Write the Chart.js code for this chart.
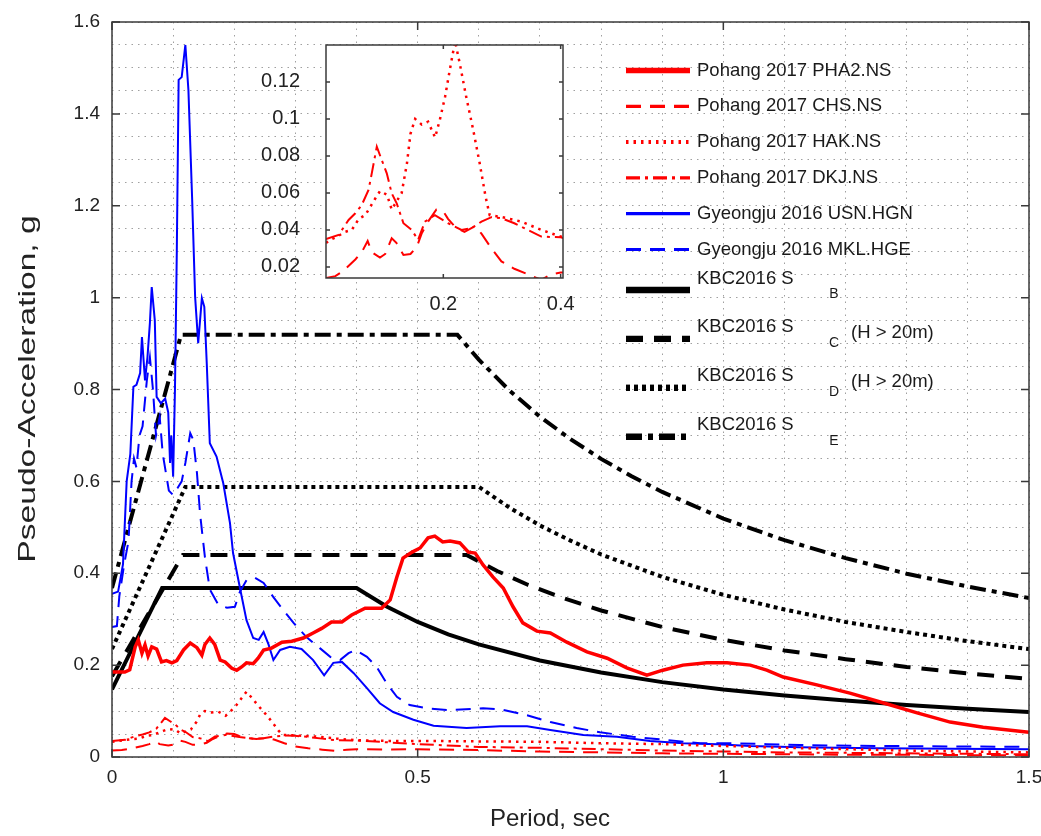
<!DOCTYPE html>
<html>
<head>
<meta charset="utf-8">
<script src="https://cdn.jsdelivr.net/npm/chart.js@4.4.1/dist/chart.umd.min.js"></script>
<style>
  html, body { margin: 0; padding: 0; background: #fff; }
  #wrap { position: relative; width: 1041px; height: 836px; }
  #main { position: absolute; left: 0; top: 0; }
  #inset { position: absolute; left: 250px; top: 35px; }
</style>
</head>
<body>
<div id="wrap">
  <canvas id="main" width="1041" height="836"></canvas>
  <canvas id="inset" width="330" height="300"></canvas>
</div>
<script>
// [period (sec), pseudo-acceleration (g)]
const pha2 = [[0,0.185],[0.021,0.185],[0.029,0.19],[0.038,0.24],[0.043,0.255],[0.049,0.226],[0.054,0.244],[0.059,0.22],[0.065,0.24],[0.073,0.235],
  [0.081,0.207],[0.089,0.21],[0.098,0.205],[0.106,0.21],[0.117,0.233],[0.128,0.248],[0.139,0.238],[0.147,0.222],[0.152,0.245],[0.160,0.259],
  [0.168,0.245],[0.177,0.211],[0.185,0.207],[0.196,0.193],[0.204,0.189],[0.212,0.196],[0.220,0.205],[0.231,0.203],[0.239,0.215],[0.248,0.233],
  [0.261,0.237],[0.278,0.25],[0.294,0.252],[0.313,0.259],[0.329,0.27],[0.343,0.28],[0.359,0.294],[0.376,0.294],[0.392,0.309],[0.414,0.324],
  [0.441,0.324],[0.455,0.342],[0.466,0.392],[0.476,0.433],[0.491,0.446],[0.504,0.455],[0.517,0.477],[0.528,0.481],[0.541,0.468],[0.553,0.470],
  [0.569,0.466],[0.583,0.446],[0.594,0.444],[0.607,0.418],[0.623,0.392],[0.640,0.368],[0.656,0.327],[0.672,0.292],[0.695,0.274],[0.717,0.270],
  [0.744,0.250],[0.777,0.229],[0.810,0.215],[0.842,0.194],[0.875,0.178],[0.901,0.189],[0.934,0.200],[0.973,0.205],[1.006,0.205],[1.044,0.200],
  [1.071,0.189],[1.098,0.174],[1.153,0.157],[1.207,0.139],[1.261,0.118],[1.317,0.096],[1.371,0.076],[1.425,0.065],[1.5,0.054]];

const chs = [[0,0.014],[0.016,0.015],[0.03,0.018],[0.05,0.024],[0.061,0.028],[0.071,0.034],[0.078,0.028],[0.092,0.025],[0.101,0.027],[0.112,0.0355],
  [0.12,0.033],[0.132,0.0265],[0.144,0.027],[0.155,0.031],[0.163,0.038],[0.174,0.0445],[0.188,0.051],[0.2,0.05],[0.208,0.046],[0.222,0.041],
  [0.236,0.039],[0.254,0.042],[0.265,0.038],[0.282,0.030],[0.299,0.023],[0.321,0.019],[0.344,0.016],[0.367,0.013],[0.384,0.016],[0.40,0.017],
  [0.45,0.016],[0.5,0.017],[0.6,0.015],[0.7,0.012],[0.8,0.01],[0.9,0.008],[1.0,0.007],[1.1,0.006],[1.2,0.005],[1.3,0.005],[1.4,0.004],[1.5,0.004]];

const hak = [[0,0.033],[0.007,0.0346],[0.019,0.0364],[0.033,0.039],[0.044,0.04],[0.056,0.046],[0.067,0.048],[0.084,0.057],[0.092,0.061],[0.104,0.059],
  [0.112,0.051],[0.129,0.06],[0.138,0.076],[0.144,0.092],[0.152,0.1],[0.163,0.097],[0.174,0.0985],[0.186,0.09],[0.194,0.0995],[0.203,0.112],
  [0.211,0.1265],[0.22,0.142],[0.228,0.13],[0.239,0.112],[0.251,0.094],[0.262,0.076],[0.272,0.058],[0.279,0.048],[0.299,0.047],[0.333,0.0445],
  [0.367,0.04],[0.40,0.0364],[0.45,0.035],[0.5,0.035],[0.6,0.034],[0.7,0.033],[0.8,0.03],[0.9,0.028],[1.0,0.024],[1.1,0.02],[1.2,0.017],
  [1.3,0.014],[1.4,0.012],[1.5,0.01]];

const dkj = [[0,0.035],[0.0215,0.0373],[0.0385,0.0454],[0.05,0.049],[0.061,0.0535],[0.0725,0.0616],[0.078,0.0706],[0.0866,0.085],[0.095,0.0778],
  [0.1036,0.0706],[0.112,0.0598],[0.1205,0.0544],[0.132,0.0436],[0.146,0.04],[0.157,0.0346],[0.1686,0.0445],[0.1856,0.048],[0.2083,0.0436],
  [0.2309,0.04],[0.248,0.0409],[0.265,0.0445],[0.282,0.0469],[0.299,0.0463],[0.321,0.0436],[0.344,0.04],[0.367,0.0364],[0.40,0.036],[0.45,0.032],
  [0.5,0.028],[0.6,0.022],[0.7,0.02],[0.8,0.017],[0.9,0.014],[1.0,0.012],[1.1,0.01],[1.2,0.009],[1.3,0.008],[1.4,0.007],[1.5,0.006]];

const usn = [[0,0.355],[0.01,0.36],[0.018,0.42],[0.024,0.6],[0.03,0.66],[0.035,0.806],[0.04,0.81],[0.046,0.836],[0.049,0.914],[0.054,0.82],
  [0.058,0.87],[0.062,0.945],[0.065,1.023],[0.07,0.951],[0.073,0.784],[0.08,0.77],[0.087,0.78],[0.092,0.75],[0.095,0.64],[0.097,0.70],
  [0.1,0.61],[0.103,0.80],[0.106,1.1],[0.109,1.474],[0.114,1.48],[0.12,1.55],[0.125,1.452],[0.131,1.219],[0.136,1.001],[0.141,0.901],
  [0.147,0.999],[0.151,0.98],[0.155,0.857],[0.160,0.683],[0.171,0.654],[0.182,0.596],[0.193,0.509],[0.198,0.444],[0.209,0.370],[0.220,0.298],
  [0.231,0.259],[0.24,0.255],[0.248,0.272],[0.256,0.245],[0.264,0.211],[0.275,0.233],[0.291,0.24],[0.31,0.235],[0.329,0.211],[0.347,0.178],
  [0.362,0.205],[0.376,0.207],[0.395,0.183],[0.417,0.150],[0.438,0.117],[0.460,0.098],[0.493,0.081],[0.526,0.068],[0.58,0.063],[0.635,0.067],
  [0.679,0.067],[0.717,0.059],[0.771,0.048],[0.826,0.044],[0.880,0.035],[0.934,0.030],[0.990,0.028],[1.044,0.024],[1.125,0.021],[1.25,0.019],
  [1.375,0.018],[1.5,0.017]];

const mkl = [[0,0.283],[0.008,0.285],[0.012,0.35],[0.02,0.42],[0.027,0.47],[0.032,0.60],[0.036,0.65],[0.04,0.63],[0.045,0.70],[0.05,0.72],
  [0.057,0.82],[0.062,0.87],[0.067,0.80],[0.072,0.70],[0.078,0.74],[0.083,0.66],[0.088,0.62],[0.093,0.58],[0.1,0.57],[0.107,0.585],
  [0.114,0.60],[0.12,0.64],[0.128,0.705],[0.133,0.69],[0.139,0.618],[0.144,0.53],[0.152,0.435],[0.160,0.365],[0.174,0.331],[0.188,0.325],
  [0.201,0.327],[0.209,0.359],[0.220,0.385],[0.234,0.390],[0.248,0.379],[0.264,0.348],[0.280,0.320],[0.297,0.292],[0.318,0.261],[0.340,0.237],
  [0.357,0.218],[0.373,0.211],[0.387,0.226],[0.398,0.233],[0.417,0.218],[0.433,0.196],[0.449,0.161],[0.466,0.131],[0.487,0.113],[0.515,0.106],
  [0.553,0.102],[0.607,0.106],[0.635,0.104],[0.679,0.091],[0.717,0.076],[0.760,0.063],[0.798,0.054],[0.852,0.044],[0.907,0.037],[0.962,0.030],
  [1.016,0.030],[1.071,0.028],[1.125,0.026],[1.25,0.024],[1.375,0.023],[1.5,0.022]];

// KBC2016 design spectra
const kbcB = [[0,0.147],[0.082,0.368],[0.40,0.368],[0.45,0.327],[0.5,0.294],[0.55,0.267],[0.6,0.245],[0.7,0.21],[0.8,0.184],[0.9,0.163],
  [1.0,0.147],[1.1,0.134],[1.2,0.123],[1.3,0.113],[1.4,0.105],[1.5,0.098]];
const kbcC = [[0,0.176],[0.116,0.44],[0.58,0.44],[0.63,0.405],[0.68,0.375],[0.74,0.345],[0.8,0.319],[0.9,0.283],[1.0,0.255],[1.1,0.232],
  [1.2,0.213],[1.3,0.196],[1.4,0.182],[1.5,0.17]];
const kbcD = [[0,0.235],[0.12,0.588],[0.60,0.588],[0.65,0.543],[0.7,0.504],[0.75,0.471],[0.8,0.441],[0.9,0.392],[1.0,0.353],[1.1,0.321],
  [1.2,0.294],[1.3,0.272],[1.4,0.252],[1.5,0.235]];
const kbcE = [[0,0.368],[0.113,0.919],[0.565,0.919],[0.6,0.865],[0.65,0.798],[0.7,0.741],[0.75,0.692],[0.8,0.649],[0.85,0.611],[0.9,0.577],
  [1.0,0.519],[1.1,0.472],[1.2,0.433],[1.3,0.399],[1.4,0.371],[1.5,0.346]];

const seriesNames = ['Pohang 2017 PHA2.NS', 'Pohang 2017 CHS.NS', 'Pohang 2017 HAK.NS', 'Pohang 2017 DKJ.NS',
  'Gyeongju 2016 USN.HGN', 'Gyeongju 2016 MKL.HGE', 'KBC2016 S', 'KBC2016 S', 'KBC2016 S', 'KBC2016 S'];
const siteClass = ['', '', '', '', '', '', 'B', 'C', 'D', 'E'];
const siteNote = ['', '', '', '', '', '', '', '(H > 20m)', '(H > 20m)', ''];

const xTickLabels = [0, 0.5, 1, 1.5];
const yTickLabels = [0, 0.2, 0.4, 0.6, 0.8, 1, 1.2, 1.4, 1.6];
const insetXTicks = [0.2, 0.4];
const insetYTicks = [0.02, 0.04, 0.06, 0.08, 0.1, 0.12];

const xTitle = 'Period, sec';
const yTitle = 'Pseudo-Acceleration, g';

const FONT = "'Liberation Sans', Arial, sans-serif";
const RED = '#ff0000', BLUE = '#0000ff', BLACK = '#000000';

const toXY = arr => arr.map(p => ({ x: p[0], y: p[1] }));
const onList = (list, v) => list.some(t => Math.abs(t - v) < 1e-6);
const fmt = v => String(+v.toFixed(3));

function makeSeries() {
  const styles = [
    [pha2, RED, 3.5, []],
    [chs, RED, 2, [15, 9]],
    [hak, RED, 2.5, [2.5, 5]],
    [dkj, RED, 2, [14, 5, 3, 5]],
    [usn, BLUE, 2, []],
    [mkl, BLUE, 2, [15, 9]],
    [kbcB, BLACK, 4, []],
    [kbcC, BLACK, 4, [17, 11]],
    [kbcD, BLACK, 4, [4, 4]],
    [kbcE, BLACK, 4, [16, 6, 5, 6]]
  ];
  return styles.map((s, i) => ({
    label: seriesNames[i] + siteClass[i] + (siteNote[i] ? ' ' + siteNote[i] : ''),
    data: toXY(s[0]),
    borderColor: s[1],
    backgroundColor: s[1],
    borderWidth: s[2],
    borderDash: s[3],
    borderCapStyle: 'butt',
    pointRadius: 0,
    tension: 0,
    fill: false
  }));
}

// box + inward tick marks on all four sides
const framePlugin = {
  id: 'frame',
  beforeDraw(chart, args, o) {
    if (!o.fill) return;
    const a = chart.chartArea, ctx = chart.ctx;
    ctx.save();
    ctx.fillStyle = o.fill;
    ctx.fillRect(a.left, a.top, a.right - a.left, a.bottom - a.top);
    ctx.restore();
  },
  afterDatasetsDraw(chart, args, o) {
    const { ctx, chartArea: a } = chart;
    const x = chart.scales.x, y = chart.scales.y;
    ctx.save();
    ctx.setLineDash([]);
    ctx.strokeStyle = '#3a3a3a';
    ctx.lineWidth = 1.5;
    ctx.beginPath();
    o.xTicks.forEach(v => {
      const px = x.getPixelForValue(v);
      ctx.moveTo(px, a.bottom); ctx.lineTo(px, a.bottom - o.len);
      ctx.moveTo(px, a.top); ctx.lineTo(px, a.top + o.len);
    });
    o.yTicks.forEach(v => {
      const py = y.getPixelForValue(v);
      ctx.moveTo(a.left, py); ctx.lineTo(a.left + o.len, py);
      ctx.moveTo(a.right, py); ctx.lineTo(a.right - o.len, py);
    });
    ctx.stroke();
    ctx.strokeRect(a.left, a.top, a.right - a.left, a.bottom - a.top);
    ctx.restore();
  }
};

const titlePlugin = {
  id: 'titles',
  afterDraw(chart) {
    const ctx = chart.ctx;
    ctx.save();
    ctx.fillStyle = '#222';
    ctx.textAlign = 'center';
    ctx.textBaseline = 'middle';
    ctx.font = '24px ' + FONT;
    ctx.fillText(xTitle, 550, 819);
    ctx.translate(28, 389);
    ctx.rotate(-Math.PI / 2);
    ctx.scale(1.4, 1);
    ctx.fillText(yTitle, 0, 0);
    ctx.restore();
  }
};

const legendPlugin = {
  id: 'sideLegend',
  afterDatasetsDraw(chart) {
    const ctx = chart.ctx;
    ctx.save();
    chart.data.datasets.forEach((ds, i) => {
      const ly = i < 6 ? 70.5 + i * 35.8 : 290 + (i - 6) * 48.9;
      ctx.strokeStyle = ds.borderColor;
      ctx.lineWidth = ds.borderWidth * 1.6;
      ctx.lineCap = 'butt';
      ctx.setLineDash(ds.borderDash);
      ctx.beginPath();
      ctx.moveTo(626, ly);
      ctx.lineTo(690, ly);
      ctx.stroke();
      ctx.setLineDash([]);
      ctx.fillStyle = '#1a1a1a';
      ctx.textAlign = 'left';
      ctx.textBaseline = 'middle';
      ctx.font = '18.5px ' + FONT;
      if (!siteClass[i]) {
        ctx.fillText(seriesNames[i], 697, ly);
      } else {
        ctx.fillText(seriesNames[i], 697, ly - 11.5);
        ctx.font = '14px ' + FONT;
        ctx.textAlign = 'center';
        ctx.fillText(siteClass[i], 834, ly + 4);
        if (siteNote[i]) {
          ctx.font = '18.5px ' + FONT;
          ctx.textAlign = 'left';
          ctx.fillText(siteNote[i], 851, ly - 6);
        }
      }
    });
    ctx.restore();
  }
};

const fixBox = (w, h) => s => {
  if (w !== null) s.width = w;
  if (h !== null) s.height = h;
  s.paddingLeft = 0; s.paddingRight = 0; s.paddingTop = 0; s.paddingBottom = 0;
};

new Chart(document.getElementById('main'), {
  type: 'line',
  data: { datasets: makeSeries() },
  options: {
    responsive: false,
    animation: false,
    devicePixelRatio: 1,
    layout: { padding: { top: 22, right: 12, left: 0, bottom: 0 } },
    plugins: {
      legend: { display: false },
      tooltip: { enabled: false },
      frame: { xTicks: xTickLabels, yTicks: yTickLabels, len: 8 }
    },
    scales: {
      x: {
        type: 'linear', min: 0, max: 1.5,
        afterFit: fixBox(null, 79),
        ticks: {
          stepSize: 0.1, autoSkip: false, maxRotation: 0, padding: 9,
          color: '#222', font: { family: FONT, size: 19 },
          callback: v => onList(xTickLabels, v) ? fmt(v) : ''
        },
        grid: { color: '#a0a0a0', lineWidth: 1, drawTicks: false },
        border: { display: false, dash: [1.5, 5] }
      },
      y: {
        type: 'linear', min: 0, max: 1.6,
        afterFit: fixBox(112, null),
        ticks: {
          stepSize: 0.05, autoSkip: false, padding: 12,
          color: '#222', font: { family: FONT, size: 19 },
          callback: v => onList(yTickLabels, v) ? fmt(v) : ''
        },
        grid: { color: '#a0a0a0', lineWidth: 1, drawTicks: false },
        border: { display: false, dash: [1.5, 5] }
      }
    }
  },
  plugins: [framePlugin, legendPlugin, titlePlugin]
});

// zoomed inset of the low-amplitude Pohang records
new Chart(document.getElementById('inset'), {
  type: 'line',
  data: { datasets: makeSeries().slice(1, 4) },
  options: {
    responsive: false,
    animation: false,
    devicePixelRatio: 1,
    layout: { padding: { top: 10, right: 17, left: 0, bottom: 0 } },
    plugins: {
      legend: { display: false },
      tooltip: { enabled: false },
      frame: { xTicks: insetXTicks, yTicks: insetYTicks, len: 4, fill: '#ffffff' }
    },
    scales: {
      x: {
        type: 'linear', min: 0, max: 0.404,
        afterFit: fixBox(null, 57),
        afterBuildTicks: s => { s.ticks = insetXTicks.map(v => ({ value: v })); },
        ticks: { autoSkip: false, maxRotation: 0, padding: 6, color: '#222', font: { family: FONT, size: 20 }, callback: v => fmt(v) },
        grid: { display: false },
        border: { display: false }
      },
      y: {
        type: 'linear', min: 0.014, max: 0.14,
        afterFit: fixBox(76, null),
        afterBuildTicks: s => { s.ticks = insetYTicks.map(v => ({ value: v })); },
        ticks: { autoSkip: false, padding: 18, color: '#222', font: { family: FONT, size: 20 }, callback: v => fmt(v) },
        grid: { display: false },
        border: { display: false }
      }
    }
  },
  plugins: [framePlugin]
});
</script>
</body>
</html>
